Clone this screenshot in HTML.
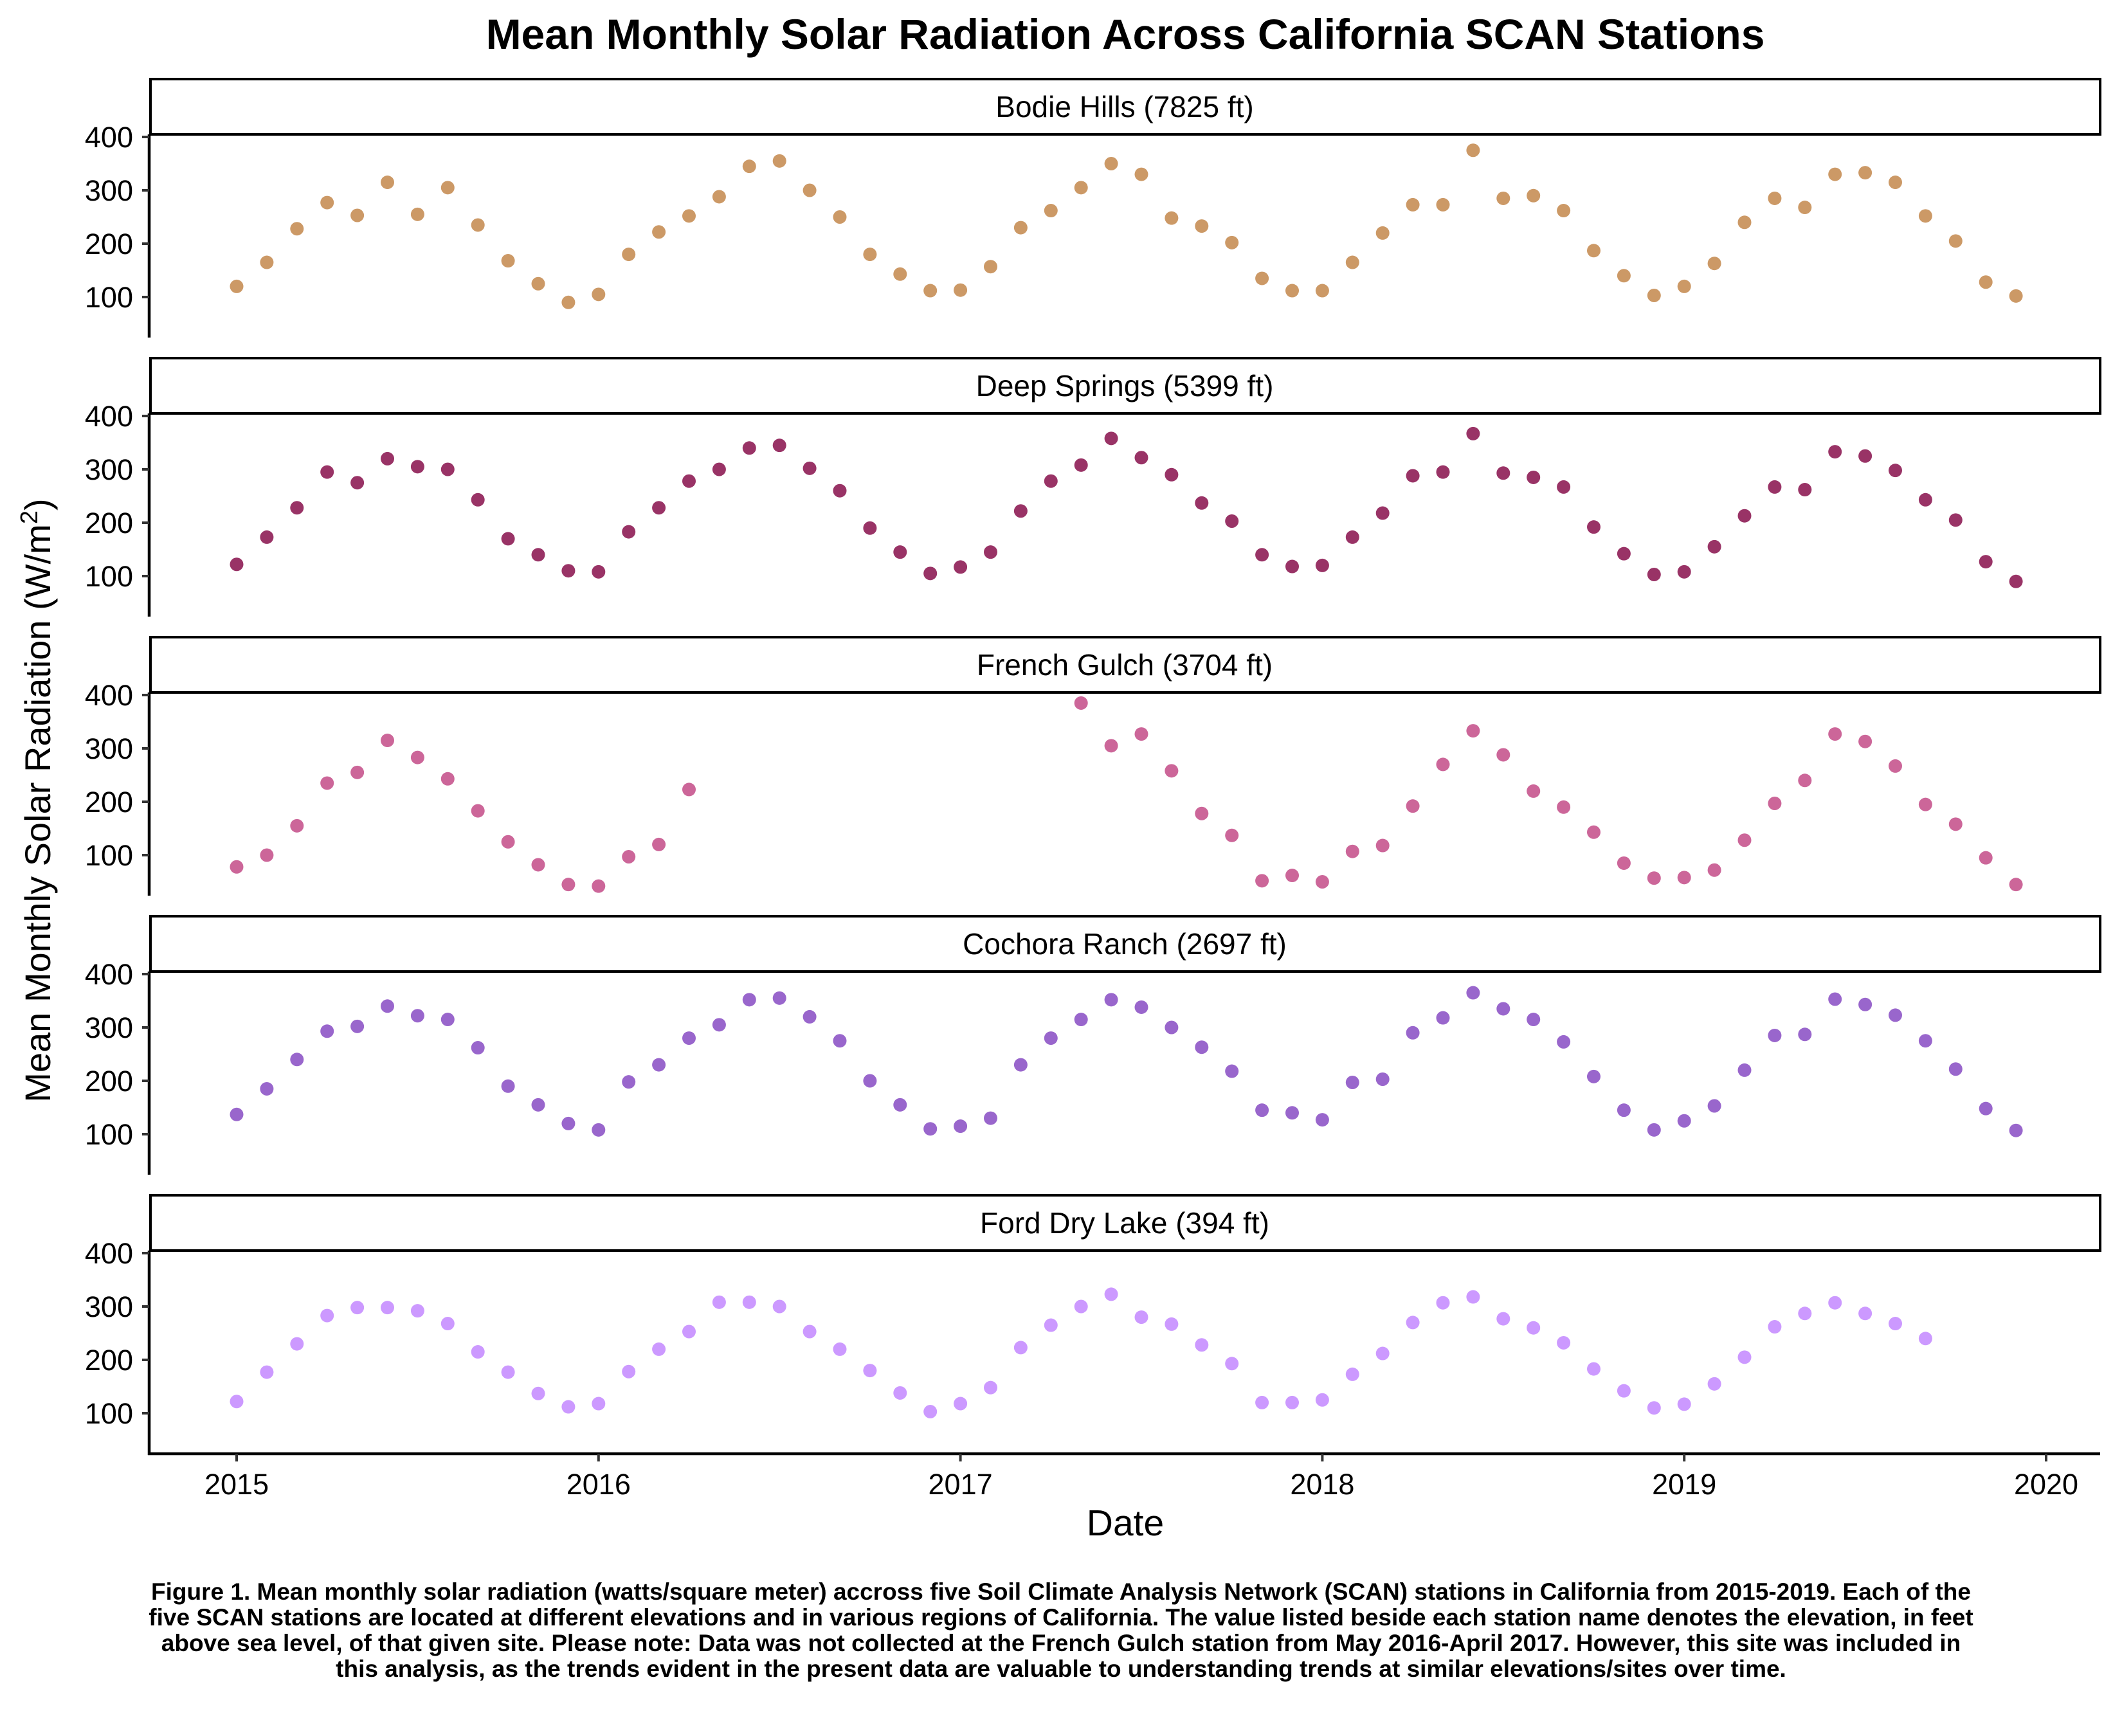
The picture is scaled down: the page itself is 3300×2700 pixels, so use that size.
<!DOCTYPE html>
<html><head><meta charset="utf-8"><style>
html,body{margin:0;padding:0;background:#fff;}
svg{display:block;font-family:"Liberation Sans",Arial,sans-serif;}
</style></head><body>
<svg id="chart" width="3300" height="2700" viewBox="0 0 3300 2700" xmlns="http://www.w3.org/2000/svg">
<text x="1750" y="76" text-anchor="middle" font-size="66" font-weight="bold">Mean Monthly Solar Radiation Across California SCAN Stations</text>
<text transform="translate(78,1245) rotate(-90)" text-anchor="middle" font-size="56">Mean Monthly Solar Radiation (W/m<tspan font-size="38" dy="-20">2</tspan><tspan dy="20">)</tspan></text>
<text x="1750" y="2388" text-anchor="middle" font-size="57">Date</text>
<g font-size="37" font-weight="bold" text-anchor="middle">
<text x="1650" y="2488">Figure 1. Mean monthly solar radiation (watts/square meter) accross five Soil Climate Analysis Network (SCAN) stations in California from 2015-2019. Each of the</text>
<text x="1650" y="2528">five SCAN stations are located at different elevations and in various regions of California. The value listed beside each station name denotes the elevation, in feet</text>
<text x="1650" y="2568">above sea level, of that given site. Please note: Data was not collected at the French Gulch station from May 2016-April 2017. However, this site was included in</text>
<text x="1650" y="2608">this analysis, as the trends evident in the present data are valuable to understanding trends at similar elevations/sites over time.</text>
</g>
<g id="panels"></g>
</svg>
<script>
const stations = ["Bodie Hills (7825 ft)","Deep Springs (5399 ft)","French Gulch (3704 ft)","Cochora Ranch (2697 ft)","Ford Dry Lake (394 ft)"];
const colors = ["#CC9966","#993366","#CC6699","#9966CC","#CC99FF"];
const yTicks = [100,200,300,400];
const xTicks = [2015,2016,2017,2018,2019,2020];
const bodie = [120,165,228,277,253,315,255,305,235,168,125,90, 105,180,222,252,288,345,355,300,250,180,143,112, 113,157,230,262,305,350,330,248,233,202,135,112, 112,165,220,273,273,375,285,290,262,187,140,103, 120,163,240,285,268,330,333,315,252,205,128,102];
const deep = [122,173,228,295,275,320,305,300,243,170,140,110, 108,183,228,278,300,340,345,302,260,190,145,105, 117,145,222,278,308,358,322,290,237,203,140,118, 120,173,218,288,295,367,293,285,267,192,142,103, 108,155,213,267,262,333,325,298,243,205,127,90];
const french = [78,100,155,235,255,315,283,243,183,125,82,45, 42,97,120,223,null,null,null,null,null,null,null,null, null,null,null,null,385,305,327,258,178,137,52,62, 50,107,118,192,270,333,288,220,190,143,85,57, 58,72,128,197,240,327,313,267,195,158,95,45];
const cochora = [137,185,240,293,302,340,322,315,262,190,155,120, 108,198,230,280,305,352,355,320,275,200,155,110, 115,130,230,280,315,352,338,300,263,218,145,140, 127,197,203,290,318,365,335,315,273,208,145,108, 125,153,220,285,287,353,343,323,275,222,148,107];
const ford = [122,177,230,283,298,298,292,268,215,177,137,112, 118,178,220,253,308,308,300,253,220,180,138,103, 118,148,223,265,300,323,280,267,228,193,120,120, 125,173,212,270,307,318,277,260,232,183,142,110, 117,155,205,262,287,307,287,268,240];
const series = [bodie,deep,french,cochora,ford];

const NS="http://www.w3.org/2000/svg";
const X0=368, PXY=562.8, LEFT=232, RIGHT=3266;
function xScale(t){return X0+(t-2015)*PXY;}
function yScale(v,i){return 213+434*i+(400-v)*0.83;}
function mk(tag,attrs,parent){const e=document.createElementNS(NS,tag);for(const k in attrs)e.setAttribute(k,attrs[k]);parent.appendChild(e);return e;}
const root=document.getElementById("panels");
stations.forEach((name,i)=>{
  const g=mk("g",{},root);
  
  
  const top=123+434*i;
  const strip=mk("rect",{x:LEFT+2,y:top,width:RIGHT-LEFT-2,height:86,fill:"#fff",stroke:"#000","stroke-width":4},g);
  
  
  const st=mk("text",{x:(LEFT+RIGHT)/2,y:top+59,"text-anchor":"middle","font-size":46},g);
  st.textContent=name;
  
  
  const ax=mk("line",{x1:LEFT,x2:LEFT,y1:top+86,y2:525+434*i+(i===4?2:0),stroke:"#000","stroke-width":4.5},g);
  
  
  yTicks.forEach(v=>{
    const y=yScale(v,i);
    const tk=mk("line",{x1:LEFT-11,x2:LEFT,y1:y,y2:y,stroke:"#333","stroke-width":4},g);
    
    
    const tl=mk("text",{x:LEFT-25,y:y+16,"text-anchor":"end","font-size":45},g);
    tl.textContent=v;
    
    
  });
  series[i].forEach((v,k)=>{
    if(v===null)return;
    const c=mk("circle",{cx:xScale(2015+k/12),cy:yScale(v,i),r:10.5,fill:colors[i]},g);
    
    
  });
});
const xa=mk("line",{x1:LEFT-2,x2:RIGHT,y1:2261,y2:2261,stroke:"#000","stroke-width":4.5},root);


xTicks.forEach(t=>{
  const x=xScale(t);
  const tk=mk("line",{x1:x,x2:x,y1:2261,y2:2273,stroke:"#333","stroke-width":4},root);
  
  
  const tl=mk("text",{x:x,y:2324,"text-anchor":"middle","font-size":45},root);
  tl.textContent=t;
  
  
});
</script>
</body></html>
